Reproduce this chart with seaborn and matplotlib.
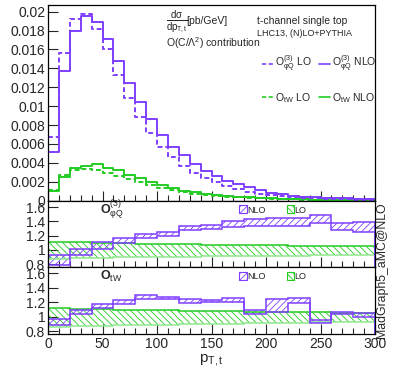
import numpy as np
import pandas as pd
import matplotlib
matplotlib.use("Agg")
import matplotlib.pyplot as plt
import seaborn as sns
from matplotlib.lines import Line2D
from matplotlib.patches import Patch
from matplotlib.ticker import MultipleLocator, FuncFormatter

# binning
edges_main = list(range(0, 301, 10))
edges_ratio = list(range(0, 301, 20))

# d sigma / d pT  (units of 1e-3 pb/GeV)
nlo_phiq = [5.2, 13.7, 18.0, 19.55, 18.9, 17.1, 14.8, 12.5, 10.45, 8.62,
            6.98, 5.64, 4.83, 3.86, 3.14, 2.61, 2.11, 1.72, 1.41, 1.12,
            0.84, 0.66, 0.52, 0.42, 0.35, 0.31, 0.27, 0.24, 0.21, 0.19]
lo_phiq = [6.7, 15.6, 19.25, 19.75, 18.2, 16.0, 13.3, 10.9, 8.89, 7.13,
           5.71, 4.58, 3.66, 2.96, 2.36, 1.94, 1.55, 1.19, 0.94, 0.73,
           0.56, 0.45, 0.35, 0.28, 0.24, 0.20, 0.17, 0.15, 0.12, 0.10]
nlo_tw = [1.05, 2.47, 3.42, 3.68, 3.88, 3.45, 3.2, 2.76, 2.42, 2.0,
          1.62, 1.3, 1.07, 0.9, 0.76, 0.63, 0.52, 0.43, 0.36, 0.30,
          0.25, 0.21, 0.17, 0.14, 0.12, 0.10, 0.09, 0.08, 0.07, 0.06]
lo_tw = [1.1, 2.68, 3.2, 3.35, 3.2, 2.9, 2.6, 2.3, 1.95, 1.62,
         1.32, 1.1, 0.9, 0.76, 0.64, 0.53, 0.44, 0.36, 0.30, 0.25,
         0.21, 0.17, 0.14, 0.12, 0.10, 0.08, 0.07, 0.06, 0.05, 0.05]

# ratio bands (scale uncertainty), O_phiQ
phiq_nlo_up = [0.926, 1.014, 1.107, 1.168, 1.228, 1.256, 1.336, 1.35, 1.40, 1.43,
               1.44, 1.44, 1.485, 1.378, 1.387]
phiq_nlo_dn = [0.795, 0.926, 1.018, 1.093, 1.168, 1.20, 1.275, 1.29, 1.317, 1.33,
               1.34, 1.34, 1.38, 1.275, 1.247]
phiq_lo_up = [1.11, 1.105, 1.10, 1.095, 1.09, 1.085, 1.08, 1.075, 1.07, 1.07,
              1.065, 1.06, 1.055, 1.05, 1.05]
phiq_lo_dn = [0.88, 0.885, 0.89, 0.895, 0.90, 0.90, 0.905, 0.91, 0.91, 0.915,
              0.92, 0.92, 0.925, 0.93, 0.93]

# ratio bands, O_tW
tw_nlo_up = [0.964, 1.10, 1.17, 1.23, 1.30, 1.28, 1.245, 1.23, 1.254, 1.10,
             1.245, 1.254, 0.954, 1.07, 1.047]
tw_nlo_dn = [0.885, 1.037, 1.125, 1.175, 1.245, 1.245, 1.19, 1.21, 1.21, 1.037,
             1.07, 1.185, 0.92, 1.033, 1.0]
tw_lo_up = [1.115, 1.11, 1.105, 1.10, 1.095, 1.09, 1.085, 1.08, 1.075, 1.07,
            1.07, 1.065, 1.06, 1.055, 1.055]
tw_lo_dn = [0.86, 0.87, 0.875, 0.88, 0.885, 0.89, 0.895, 0.90, 0.905, 0.91,
            0.915, 0.92, 0.925, 0.93, 0.93]

PURPLE = "#7f3fff"
GREEN = "#22cc22"
LGREEN = "#90e890"
DASH = (0, (2.5, 1.5))

sns.set_style("ticks")
plt.rcParams["font.family"] = ["Liberation Sans", "DejaVu Sans"]
plt.rcParams["mathtext.fontset"] = "custom"
plt.rcParams["mathtext.rm"] = "Liberation Sans"
plt.rcParams["mathtext.it"] = "Liberation Sans"
plt.rcParams["hatch.linewidth"] = 0.6

W, H = 399, 375
fig = plt.figure(figsize=(W / 100, H / 100), dpi=100)
L, R = 48 / W, 327 / W
ax = fig.add_axes([L, 1 - 200.7 / H, R, 195.7 / H])
ax1 = fig.add_axes([L, 1 - 267 / H, R, 66.3 / H])
ax2 = fig.add_axes([L, 1 - 334 / H, R, 67 / H])

centers = [e + 5 for e in edges_main[:-1]]
df = pd.DataFrame({"pt": centers,
                   "nlo_phiq": np.array(nlo_phiq) * 1e-3,
                   "lo_phiq": np.array(lo_phiq) * 1e-3,
                   "nlo_tw": np.array(nlo_tw) * 1e-3,
                   "lo_tw": np.array(lo_tw) * 1e-3})

for col, c, ls in [("lo_tw", GREEN, DASH), ("nlo_tw", GREEN, "-"),
                   ("lo_phiq", PURPLE, DASH), ("nlo_phiq", PURPLE, "-")]:
    sns.histplot(data=df, x="pt", weights=col, bins=edges_main, element="step",
                 fill=False, color=c, linewidth=1.4, linestyle=ls, ax=ax)

ax.set_xlim(0, 300)
ax.set_ylim(0, 0.0207)
ax.set_yticks(np.arange(0, 0.0201, 0.002))
ax.yaxis.set_major_formatter(FuncFormatter(lambda v, p: "%g" % round(v, 4)))
ax.set_xlabel("")
ax.set_ylabel("")
ax.tick_params(labelbottom=False)

ax.text(0.360, 0.915, r"$\frac{d\sigma}{dp_{T,t}}$", transform=ax.transAxes,
        fontsize=10, va="center", ha="left")
ax.text(0.424, 0.918, "[pb/GeV]", transform=ax.transAxes,
        fontsize=7.5, va="center", ha="left")
ax.text(0.362, 0.805, r"O(C/$\Lambda^2$) contribution", transform=ax.transAxes,
        fontsize=7.5, va="center", ha="left")
ax.text(0.638, 0.916, "t-channel single top", transform=ax.transAxes,
        fontsize=7.5, va="center", ha="left")
ax.text(0.638, 0.852, "LHC13, (N)LO+PYTHIA", transform=ax.transAxes,
        fontsize=6.5, va="center", ha="left")

handles = [Line2D([], [], color=PURPLE, ls=DASH, lw=1.2),
           Line2D([], [], color=GREEN, ls=DASH, lw=1.2),
           Line2D([], [], color=PURPLE, lw=1.2),
           Line2D([], [], color=GREEN, lw=1.2)]
labels = [r"O$^{(3)}_{\varphi Q}$ LO", r"O$_{tW}$ LO",
          r"O$^{(3)}_{\varphi Q}$ NLO", r"O$_{tW}$ NLO"]
ax.legend(handles, labels, ncol=2, loc="upper left", bbox_to_anchor=(0.655, 0.75),
          frameon=False, fontsize=7.5, handlelength=1.1, handletextpad=0.15,
          columnspacing=0.65, labelspacing=1.6, borderaxespad=0, borderpad=0)


def ratio_panel(a, nlo_up, nlo_dn, lo_up, lo_dn, name):
    up_n = nlo_up + [nlo_up[-1]]
    dn_n = nlo_dn + [nlo_dn[-1]]
    up_l = lo_up + [lo_up[-1]]
    dn_l = lo_dn + [lo_dn[-1]]
    a.fill_between(edges_ratio, dn_l, up_l, step="post", facecolor="none",
                   edgecolor=GREEN, hatch="\\\\\\\\\\", linewidth=0)
    a.fill_between(edges_ratio, dn_n, up_n, step="post", facecolor="none",
                   edgecolor=PURPLE, hatch="/////", linewidth=0)
    a.stairs(lo_up, edges_ratio, color=GREEN, lw=1.1)
    a.stairs(lo_dn, edges_ratio, color=LGREEN, lw=1.1)
    a.stairs(nlo_up, edges_ratio, color=PURPLE, lw=1.1)
    a.stairs(nlo_dn, edges_ratio, color=PURPLE, lw=1.1)
    a.set_xlim(0, 300)
    a.set_ylim(0.762, 1.688)
    a.set_yticks([0.8, 1.0, 1.2, 1.4, 1.6])
    a.yaxis.set_major_formatter(FuncFormatter(lambda v, p: "%g" % round(v, 2)))
    a.text(0.16, 0.86, name, transform=a.transAxes, fontsize=9,
           fontweight="bold", va="center", ha="left")
    h = [Patch(facecolor="none", edgecolor=PURPLE, hatch="/////", lw=0.8),
         Patch(facecolor="none", edgecolor=GREEN, hatch="\\\\\\\\\\", lw=0.8)]
    a.legend(h, ["NLO", "LO"], ncol=2, loc="center left", bbox_to_anchor=(0.585, 0.86),
             frameon=False, fontsize=6.5, handlelength=0.8, handleheight=1.0,
             handletextpad=0.1, columnspacing=2.3, borderaxespad=0, borderpad=0)


ratio_panel(ax1, phiq_nlo_up, phiq_nlo_dn, phiq_lo_up, phiq_lo_dn,
            r"O$^{(3)}_{\varphi Q}$")
ratio_panel(ax2, tw_nlo_up, tw_nlo_dn, tw_lo_up, tw_lo_dn, r"O$_{tW}$")
ax1.tick_params(labelbottom=False)

for a in (ax, ax1, ax2):
    a.xaxis.set_major_locator(MultipleLocator(50))
    a.xaxis.set_minor_locator(MultipleLocator(10))
    a.tick_params(which="both", direction="in", top=False, right=False,
                  labelsize=10, width=0.8, pad=2)
    a.tick_params(which="major", length=7)
    a.tick_params(which="minor", length=4)
    for s in a.spines.values():
        s.set_linewidth(0.9)
        s.set_color("black")

ax2.set_xticks([0, 50, 100, 150, 200, 250, 300])
ax2.set_xlabel(r"p$_{T,t}$", fontsize=11, labelpad=1)

fig.text(382 / W, 1 - 270 / H, "MadGraph5_aMC@NLO", rotation=90, fontsize=8.8,
         ha="center", va="center")

fig.savefig("out.png", dpi=100)
